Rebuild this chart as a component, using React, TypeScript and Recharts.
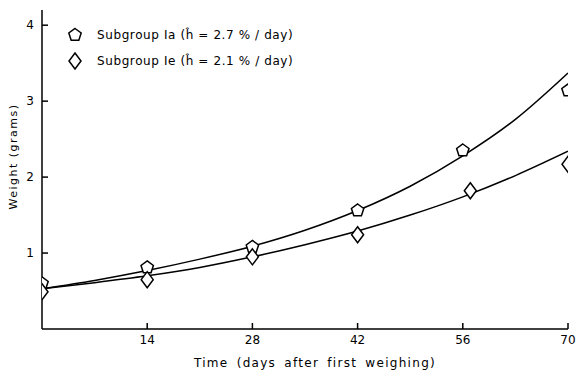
import { ComposedChart, Line, Scatter, XAxis, YAxis } from "recharts";

// fitted growth curves
const curveDays = [0, 7, 14, 21, 28, 35, 42, 49, 56, 63, 70];
const curveIa = [0.53, 0.64, 0.77, 0.92, 1.09, 1.3, 1.56, 1.88, 2.28, 2.76, 3.37];
const curveIe = [0.53, 0.61, 0.7, 0.81, 0.95, 1.11, 1.29, 1.5, 1.74, 2.02, 2.34];

// measured points
const daysIa = [0, 14, 28, 42, 56, 70];
const weightIa = [0.6, 0.81, 1.08, 1.56, 2.35, 3.14];
const daysIe = [0, 14, 28, 42, 57, 70];
const weightIe = [0.49, 0.65, 0.95, 1.24, 1.82, 2.17];

const xTicks = [14, 28, 42, 56, 70];
const yTicks = [1, 2, 3, 4];

const legendLabels = [
  "Subgroup Ia  (ĥ = 2.7 % / day)",
  "Subgroup Ie  (ĥ = 2.1 % / day)",
];
const xTitle = "Time (days after first weighing)";
const yTitle = "Weight (grams)";

const FONT = "'DejaVu Sans', sans-serif";

const lineIa = curveDays.map((x, i) => ({ x, y: curveIa[i] }));
const lineIe = curveDays.map((x, i) => ({ x, y: curveIe[i] }));
const pointsIa = daysIa.map((x, i) => ({ x, y: weightIa[i] }));
const pointsIe = daysIe.map((x, i) => ({ x, y: weightIe[i] }));

function pentagonPath(cx: number, cy: number, r: number) {
  const pts = [];
  for (let k = 0; k < 5; k++) {
    const a = -Math.PI / 2 + (k * 2 * Math.PI) / 5;
    pts.push(`${cx + r * Math.cos(a)},${cy + r * Math.sin(a)}`);
  }
  return `M${pts.join("L")}Z`;
}

function diamondPath(cx: number, cy: number) {
  return `M${cx},${cy - 8}L${cx + 6},${cy}L${cx},${cy + 8}L${cx - 6},${cy}Z`;
}

function Pentagon(props: any) {
  const { cx, cy } = props;
  return <path d={pentagonPath(cx, cy, 6.5)} fill="#fff" stroke="#000" strokeWidth={1.5} />;
}

function Diamond(props: any) {
  const { cx, cy } = props;
  return <path d={diamondPath(cx, cy)} fill="#fff" stroke="#000" strokeWidth={1.5} />;
}

function XTick(props: any) {
  const { x, y, payload } = props;
  return (
    <g>
      <line x1={x} y1={y} x2={x} y2={y - 6} stroke="#000" strokeWidth={1.5} />
      <text x={x} y={y + 15} textAnchor="middle" fontSize={12} fontFamily={FONT} fill="#000">
        {payload.value}
      </text>
    </g>
  );
}

function YTick(props: any) {
  const { x, y, payload } = props;
  return (
    <g>
      <line x1={x} y1={y} x2={x + 6} y2={y} stroke="#000" strokeWidth={1.5} />
      <text x={x - 8} y={y + 4} textAnchor="end" fontSize={12} fontFamily={FONT} fill="#000">
        {payload.value}
      </text>
    </g>
  );
}

function XTitle(props: any) {
  const { viewBox } = props;
  const cx = viewBox.x + viewBox.width / 2 + 10;
  return (
    <text x={cx} y={367} textAnchor="middle" fontSize={12} fontFamily={FONT} fill="#000" letterSpacing={1.3} wordSpacing={3}>
      {xTitle}
    </text>
  );
}

function YTitle(props: any) {
  const { viewBox } = props;
  const x = 17;
  const y = viewBox.y + viewBox.height / 2 - 13;
  return (
    <text x={x} y={y} transform={`rotate(-90 ${x} ${y})`} textAnchor="middle" fontSize={11} fontFamily={FONT} fill="#000" letterSpacing={1.5}>
      {yTitle}
    </text>
  );
}

function LegendBox() {
  return (
    <svg width={280} height={50} style={{ position: "absolute", left: 65, top: 25 }}>
      <path d={pentagonPath(10, 10, 6.5)} fill="#fff" stroke="#000" strokeWidth={1.5} />
      <text x={32} y={14} fontSize={12} fontFamily={FONT} fill="#000" letterSpacing={0.6}>
        {legendLabels[0]}
      </text>
      <path d={diamondPath(10, 36)} fill="#fff" stroke="#000" strokeWidth={1.5} />
      <text x={32} y={40} fontSize={12} fontFamily={FONT} fill="#000" letterSpacing={0.6}>
        {legendLabels[1]}
      </text>
    </svg>
  );
}

export default function App() {
  return (
    <div style={{ position: "absolute", left: 0, top: 0, width: 577, height: 372, background: "#fff" }}>
      <ComposedChart width={577} height={372} margin={{ top: 10, right: 9, bottom: 13, left: 0 }}>
        <XAxis
          type="number"
          dataKey="x"
          height={30}
          domain={[0, 70]}
          ticks={xTicks}
          allowDataOverflow
          tickSize={0}
          tickMargin={0}
          tick={<XTick />}
          axisLine={{ stroke: "#000", strokeWidth: 1.5 }}
          label={<XTitle />}
        />
        <YAxis
          type="number"
          dataKey="y"
          width={42}
          domain={[0, 4.2]}
          ticks={yTicks}
          allowDataOverflow
          tickSize={0}
          tickMargin={0}
          tick={<YTick />}
          axisLine={{ stroke: "#000", strokeWidth: 1.5 }}
          label={<YTitle />}
        />
        <Line data={lineIa} dataKey="y" type="monotone" stroke="#000" strokeWidth={1.5} dot={false} isAnimationActive={false} legendType="none" />
        <Line data={lineIe} dataKey="y" type="monotone" stroke="#000" strokeWidth={1.5} dot={false} isAnimationActive={false} legendType="none" />
        <Scatter data={pointsIa} dataKey="y" shape={<Pentagon />} isAnimationActive={false} />
        <Scatter data={pointsIe} dataKey="y" shape={<Diamond />} isAnimationActive={false} />
      </ComposedChart>
      <LegendBox />
    </div>
  );
}
